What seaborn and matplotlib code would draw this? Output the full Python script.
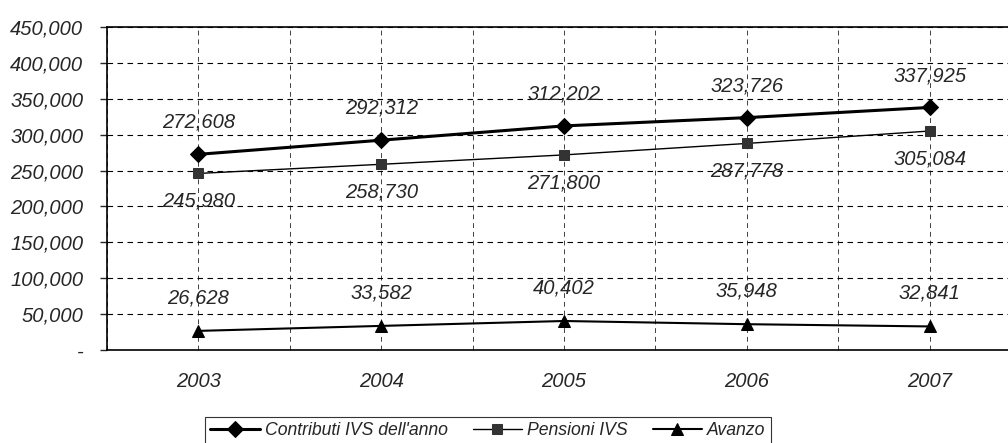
import numpy as np
import pandas as pd
import seaborn as sns
import matplotlib.pyplot as plt
from matplotlib.ticker import FuncFormatter

years = [2003, 2004, 2005, 2006, 2007]
contributi = [272608, 292312, 312202, 323726, 337925]
pensioni = [245980, 258730, 271800, 287778, 305084]
avanzo = [26628, 33582, 40402, 35948, 32841]
series_names = ["Contributi IVS dell'anno", "Pensioni IVS", "Avanzo"]

sns.set_style("white")
plt.rcParams['font.family'] = ['Liberation Sans', 'DejaVu Sans']
plt.rcParams['font.style'] = 'italic'
FS = 14.5

fig = plt.figure(figsize=(10.08, 4.43), dpi=100)
ax = fig.add_axes([107 / 1008, 1 - 350 / 443, 914 / 1008, 323 / 443])

# style per series: marker, line width, marker colour, marker size, label offset (pt)
styles = [
    ("D", 2.2, "black", 8, 23),
    ("s", 1.0, "#333333", 7, -20),
    ("^", 1.5, "black", 9, 24),
]
for name, vals, (mk, lw, mc, ms, off) in zip(series_names, [contributi, pensioni, avanzo], styles):
    sns.lineplot(x=years, y=vals, ax=ax, color="black", linewidth=lw, marker=mk,
                 markersize=ms, markerfacecolor=mc, markeredgecolor=mc, label=name)
    for x, v in zip(years, vals):
        ax.annotate(f"{v:,}", (x, v), xytext=(0, off), textcoords="offset points",
                    ha="center", va="center", fontsize=FS, style="italic")

ax.set_xlim(2002.5, 2007.5)
ax.set_ylim(0, 450000)
ax.set_yticks(np.arange(0, 450001, 50000))
ax.yaxis.set_major_formatter(FuncFormatter(lambda v, p: "-" if v == 0 else f"{int(v):,}"))
ax.set_xticks(years)
ax.set_xticks([y + 0.5 for y in years[:-1]] + [2002.5], minor=True)
ax.set_xticklabels([str(y) for y in years])

ax.grid(True, which="both", axis="x", color="black", linestyle=(0, (5, 4)), linewidth=0.7, alpha=0.75)
ax.grid(True, which="major", axis="y", color="black", linestyle=(0, (5, 4)), linewidth=0.8)

ax.tick_params(axis="y", which="major", direction="out", length=5, width=1, left=True, labelsize=FS, pad=12)
ax.tick_params(axis="x", which="both", length=0, labelsize=FS, pad=16)
for lab in ax.get_xticklabels() + ax.get_yticklabels():
    lab.set_fontstyle("italic")

for side in ["left", "top", "bottom"]:
    ax.spines[side].set_color("black")
    ax.spines[side].set_linewidth(1.2)
ax.spines["right"].set_visible(False)
ax.set_xlabel("")
ax.set_ylabel("")

leg = ax.legend(loc="upper center", bbox_to_anchor=(488 / 1008, 1 - 408 / 443), bbox_transform=fig.transFigure,
                ncol=3, frameon=True, fancybox=False, handlelength=2.8,
                columnspacing=1.4, handletextpad=0.3, borderpad=0.3, prop={"style": "italic", "size": 12.7})
leg.get_frame().set_edgecolor("black")
leg.get_frame().set_linewidth(0.8)

fig.savefig("out.png", dpi=100)
